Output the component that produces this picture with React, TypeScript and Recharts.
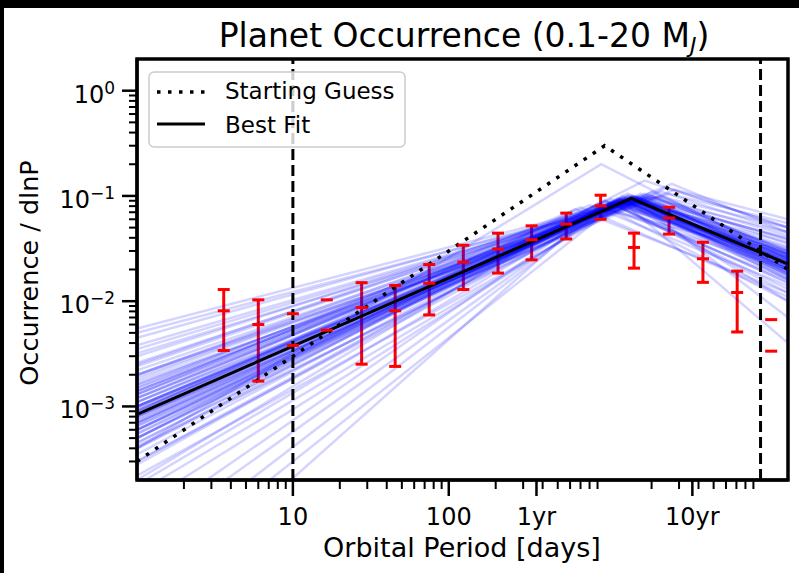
import React from 'react';
import { ComposedChart, Line, XAxis, YAxis, Scatter, ReferenceLine, ReferenceArea } from 'recharts';

// ---- axis ranges ----
const X_MIN = 1;
const X_MAX = 15000;
const Y_MIN = 2e-4;
const Y_MAX = 2;

// ---- tick definitions ----
const majorXTicks = [10, 100, 365.25, 3652.5];
const majorXLabels = ['10', '100', '1yr', '10yr'];
const minorXTicks = [2, 3, 4, 5, 6, 7, 8, 9, 20, 30, 40, 50, 60, 70, 80, 90, 200, 300, 400, 500, 600, 700, 800, 900, 2000, 3000, 4000, 5000, 6000, 7000, 8000, 9000];
const majorYTicks = [1e-3, 1e-2, 1e-1, 1];
const majorYExp = ['\u22123', '\u22122', '\u22121', '0'];
const minorYTicks = [3e-4, 4e-4, 5e-4, 6e-4, 7e-4, 8e-4, 9e-4, 2e-3, 3e-3, 4e-3, 5e-3, 6e-3, 7e-3, 8e-3, 9e-3, 2e-2, 3e-2, 4e-2, 5e-2, 6e-2, 7e-2, 8e-2, 9e-2, 0.2, 0.3, 0.4, 0.5, 0.6, 0.7, 0.8, 0.9];

// ---- binned occurrence (red error bars) ----
const binPeriods = [3.6, 6.0, 27.6, 45.3, 74.9, 124, 207, 340, 567, 942, 1543, 2590, 4270, 7080];
const binMid = [0.0081, 0.0060, 0.0087, 0.0081, 0.0148, 0.0235, 0.0313, 0.0383, 0.054, 0.0805, 0.0324, 0.0617, 0.0253, 0.0121];
const binHigh = [0.0129, 0.0103, 0.0150, 0.0141, 0.0223, 0.034, 0.0443, 0.052, 0.0687, 0.1016, 0.0443, 0.078, 0.0363, 0.0193];
const binLow = [0.0034, 0.00174, 0.00252, 0.0024, 0.0074, 0.0129, 0.0185, 0.0247, 0.039, 0.060, 0.0206, 0.0434, 0.0151, 0.0051];

// bins drawn only as two markers
const markPeriods = [10, 16.5, 11700];
const markHigh = [0.0076, 0.0103, 0.00668];
const markLow = [0.0038, 0.0053, 0.00335];

// ---- model curves: [left edge, break period, right edge] ----
const guessPeriods = [X_MIN, 1000, X_MAX];
const guessValues = [3.0e-4, 0.30, 0.020];
const bestPeriods = [X_MIN, 1480, X_MAX];
const bestValues = [8.4e-4, 0.095, 0.0225];

// ---- posterior samples (blue): value at left edge, break period, break value, value at right edge ----
const sampleLeft = [8.0e-4, 1.2e-3, 5.0e-4, 2.0e-3, 3.0e-4, 1.5e-3, 6.0e-4, 1.0e-3, 2.5e-3, 4.0e-4, 1.8e-4, 3.5e-3, 7.0e-4, 9.0e-4, 1.1e-4, 5.5e-3, 1.4e-3, 2.8e-4, 6.5e-4, 1.7e-3, 4.5e-3, 2.2e-4, 8.5e-4, 3.0e-3, 5.0e-5, 1.3e-3, 4.0e-4, 2.2e-3, 4.0e-4, 6.0e-4, 3.0e-5, 1.6e-3, 7.5e-4, 2.0e-4, 5.0e-3, 1.1e-3, 3.5e-4, 9.5e-4, 2.6e-3, 1.0e-5, 4.5e-4, 1.2e-3, 7.0e-4, 1.9e-3, 5.5e-4, 1.5e-4, 3.8e-3, 8.0e-4, 1.3e-3, 6.0e-4, 2.0e-5, 2.4e-3, 9.0e-4, 4.2e-4, 1.5e-3, 1.0e-3, 7.0e-5, 3.2e-3, 6.8e-4, 1.1e-3, 5.0e-4, 2.0e-3, 9.0e-4, 3.0e-4, 1.4e-3, 5.0e-4, 1.0e-3,
  9.0e-4, 7.0e-4, 1.1e-3, 6.0e-4, 1.3e-3, 8.0e-4, 1.0e-3, 5.0e-4, 1.6e-3, 7.5e-4, 1.2e-3, 4.5e-4, 9.5e-4, 1.8e-3, 6.5e-4, 8.0e-4, 1.4e-3, 1.0e-3, 5.5e-4, 2.0e-3];
const sampleBreakP = [1400, 1300, 1500, 1100, 1600, 1700, 1200, 2000, 900, 1800, 1300, 1000, 2300, 800, 1500, 1400, 1250, 1100, 1900, 2600, 1200, 2000, 1600, 1500, 1300, 700, 1000, 1800, 950, 2500, 1200, 1350, 1700, 900, 1600, 1100, 1400, 2100, 1300, 1000, 1250, 1500, 1350, 1650, 1550, 1700, 1150, 2800, 1450, 1050, 1400, 1250, 1600, 1900, 950, 1300, 1100, 1800, 1450, 1750, 650, 2200, 1200, 1300, 1550, 1800, 2700,
  1450, 1350, 1550, 1500, 1400, 1300, 1600, 1400, 1500, 1650, 1200, 1450, 1350, 1400, 1550, 1750, 1150, 1500, 1250, 1450];
const sampleBreakY = [0.095, 0.090, 0.098, 0.085, 0.100, 0.092, 0.088, 0.100, 0.080, 0.105, 0.095, 0.075, 0.110, 0.082, 0.100, 0.090, 0.093, 0.087, 0.097, 0.105, 0.083, 0.110, 0.091, 0.096, 0.100, 0.078, 0.090, 0.098, 0.200, 0.120, 0.095, 0.088, 0.100, 0.085, 0.088, 0.094, 0.105, 0.098, 0.086, 0.090, 0.093, 0.095, 0.090, 0.092, 0.099, 0.105, 0.080, 0.115, 0.096, 0.088, 0.100, 0.090, 0.094, 0.103, 0.084, 0.092, 0.090, 0.094, 0.097, 0.090, 0.075, 0.100, 0.091, 0.097, 0.093, 0.140, 0.130,
  0.094, 0.096, 0.092, 0.099, 0.091, 0.093, 0.095, 0.100, 0.090, 0.097, 0.089, 0.101, 0.092, 0.088, 0.098, 0.096, 0.087, 0.094, 0.095, 0.089];
const sampleRight = [0.022, 0.025, 0.020, 0.030, 0.018, 0.028, 0.024, 0.035, 0.020, 0.030, 0.016, 0.026, 0.045, 0.014, 0.021, 0.032, 0.019, 0.012, 0.038, 0.055, 0.023, 0.027, 0.017, 0.040, 0.020, 0.011, 0.015, 0.045, 0.025, 0.050, 0.018, 0.026, 0.023, 0.010, 0.036, 0.021, 0.028, 0.042, 0.024, 0.015, 0.0040, 0.0070, 0.0100, 0.033, 0.025, 0.022, 0.028, 0.060, 0.019, 0.013, 0.020, 0.027, 0.031, 0.029, 0.016, 0.022, 0.017, 0.039, 0.021, 0.026, 0.012, 0.050, 0.018, 0.024, 0.029, 0.050, 0.045,
  0.023, 0.021, 0.024, 0.020, 0.026, 0.019, 0.027, 0.022, 0.025, 0.028, 0.020, 0.023, 0.018, 0.024, 0.026, 0.030, 0.021, 0.016, 0.019, 0.028];

const FONT = '"DejaVu Sans", sans-serif';

const samples = sampleLeft.map((l, i) => [
  { x: X_MIN, y: l },
  { x: sampleBreakP[i], y: sampleBreakY[i] },
  { x: X_MAX, y: sampleRight[i] },
]);
const guessData = guessPeriods.map((p, i) => ({ x: p, y: guessValues[i] }));
const bestData = bestPeriods.map((p, i) => ({ x: p, y: bestValues[i] }));
const barSegments = binPeriods.map((p, i) => [
  { x: p, y: binLow[i] },
  { x: p, y: binHigh[i] },
]);
const capPoints = [
  ...binPeriods.flatMap((p, i) => [
    { x: p, y: binLow[i] },
    { x: p, y: binMid[i] },
    { x: p, y: binHigh[i] },
  ]),
  ...markPeriods.flatMap((p, i) => [
    { x: p, y: markLow[i] },
    { x: p, y: markHigh[i] },
  ]),
];

const xTicks = [...minorXTicks, ...majorXTicks].sort((a, b) => a - b);
const yTicks = [...minorYTicks, ...majorYTicks].sort((a, b) => a - b);

const XTick = (props: any) => {
  const { x, y, payload } = props;
  const idx = majorXTicks.indexOf(payload.value);
  const major = idx >= 0;
  return (
    <g>
      <line x1={x} x2={x} y1={y} y2={y + (major ? 16 : 9)} stroke="#000" strokeWidth={major ? 2.5 : 2} />
      {major && (
        <text x={x} y={y + 45} textAnchor="middle" fontSize={24} fontFamily={FONT} fill="#000">
          {majorXLabels[idx]}
        </text>
      )}
    </g>
  );
};

const YTick = (props: any) => {
  const { x, y, payload } = props;
  const idx = majorYTicks.findIndex((v) => Math.abs(v - payload.value) / v < 1e-6);
  const major = idx >= 0;
  return (
    <g>
      <line x1={x} x2={x - (major ? 15 : 8)} y1={y} y2={y} stroke="#000" strokeWidth={major ? 2.5 : 2} />
      {major && (
        <text x={x - 22} y={y + 12} textAnchor="end" fontSize={24} fontFamily={FONT} fill="#000">
          10<tspan dy={-9} fontSize={17}>{majorYExp[idx]}</tspan>
        </text>
      )}
    </g>
  );
};

const CapShape = (props: any) => {
  const { cx, cy } = props;
  if (cx == null || cy == null) return null;
  return <rect x={cx - 6} y={cy - 1.5} width={12} height={3} fill="#ff0000" />;
};

export default function App() {
  return (
    <div style={{ position: 'fixed', left: 0, top: 0, width: 799, height: 573, background: '#000', fontFamily: FONT }}>
      <div style={{ position: 'absolute', left: 4, top: 8, width: 795, height: 565, background: '#fff' }} />
      <div style={{ position: 'absolute', left: 0, top: 0 }}>
        <ComposedChart width={799} height={573} margin={{ top: 59, right: 11, bottom: 33, left: 37 }}>
          <XAxis
            dataKey="x"
            type="number"
            scale="log"
            domain={[X_MIN, X_MAX]}
            allowDataOverflow
            ticks={xTicks}
            interval={0}
            tickSize={0}
            tickMargin={0}
            tickLine={false}
            axisLine={{ stroke: '#000', strokeWidth: 3 }}
            tick={(p: any) => <XTick {...p} />}
            height={60}
          />
          <YAxis
            type="number"
            scale="log"
            domain={[Y_MIN, Y_MAX]}
            allowDataOverflow
            ticks={yTicks}
            interval={0}
            tickSize={0}
            tickMargin={0}
            tickLine={false}
            axisLine={{ stroke: '#000', strokeWidth: 3 }}
            tick={(p: any) => <YTick {...p} />}
            width={100}
          />
          {barSegments.map((seg, i) => (
            <Line
              key={'bar' + i}
              data={seg}
              dataKey="y"
              stroke="#ff0000"
              strokeWidth={3}
              dot={false}
              activeDot={false}
              isAnimationActive={false}
              legendType="none"
            />
          ))}
          {samples.map((s, i) => (
            <Line
              key={'s' + i}
              data={s}
              dataKey="y"
              stroke="#0000ff"
              strokeOpacity={0.17}
              strokeWidth={2.5}
              dot={false}
              activeDot={false}
              isAnimationActive={false}
              legendType="none"
            />
          ))}
          <Line
            data={guessData}
            dataKey="y"
            stroke="#000"
            strokeWidth={3.5}
            strokeDasharray="3.5 7.5"
            dot={false}
            activeDot={false}
            isAnimationActive={false}
            legendType="none"
          />
          <Line
            data={bestData}
            dataKey="y"
            stroke="#000"
            strokeWidth={3}
            dot={false}
            activeDot={false}
            isAnimationActive={false}
            legendType="none"
          />
          <ReferenceLine x={10} stroke="#000" strokeWidth={3} strokeDasharray="11 5" />
          <ReferenceLine x={10000} stroke="#000" strokeWidth={3} strokeDasharray="11 5" />
          <Scatter data={capPoints} dataKey="y" shape={(p: any) => <CapShape {...p} />} isAnimationActive={false} legendType="none" />
          <ReferenceArea x1={X_MIN} x2={X_MAX} y1={Y_MIN} y2={Y_MAX} fill="none" fillOpacity={0} stroke="#000" strokeWidth={3.5} />
        </ComposedChart>
      </div>
      <svg width={799} height={573} style={{ position: 'absolute', left: 0, top: 0, pointerEvents: 'none' }}>
        <text x={464} y={47} textAnchor="middle" fontSize={33} fontFamily={FONT} fill="#000">
          Planet Occurrence (0.1-20 M<tspan dy={6} fontSize={22} fontStyle="italic">J</tspan><tspan dy={-6}>)</tspan>
        </text>
        <text x={462} y={557} textAnchor="middle" fontSize={27} fontFamily={FONT} fill="#000">
          Orbital Period [days]
        </text>
        <text transform="translate(38,273) rotate(-90)" textAnchor="middle" fontSize={25.5} fontFamily={FONT} fill="#000">
          Occurrence / dlnP
        </text>
        <rect x={149} y={72} width={256} height={75} rx={5} ry={5} fill="#fff" fillOpacity={0.8} stroke="#cccccc" strokeWidth={1.5} />
        <line x1={157} x2={205} y1={92} y2={92} stroke="#000" strokeWidth={3.5} strokeDasharray="3.5 7.5" />
        <text x={225} y={99} fontSize={23} fontFamily={FONT} fill="#000">Starting Guess</text>
        <line x1={157} x2={205} y1={124} y2={124} stroke="#000" strokeWidth={3} />
        <text x={225} y={133} fontSize={23} fontFamily={FONT} fill="#000">Best Fit</text>
      </svg>
    </div>
  );
}
